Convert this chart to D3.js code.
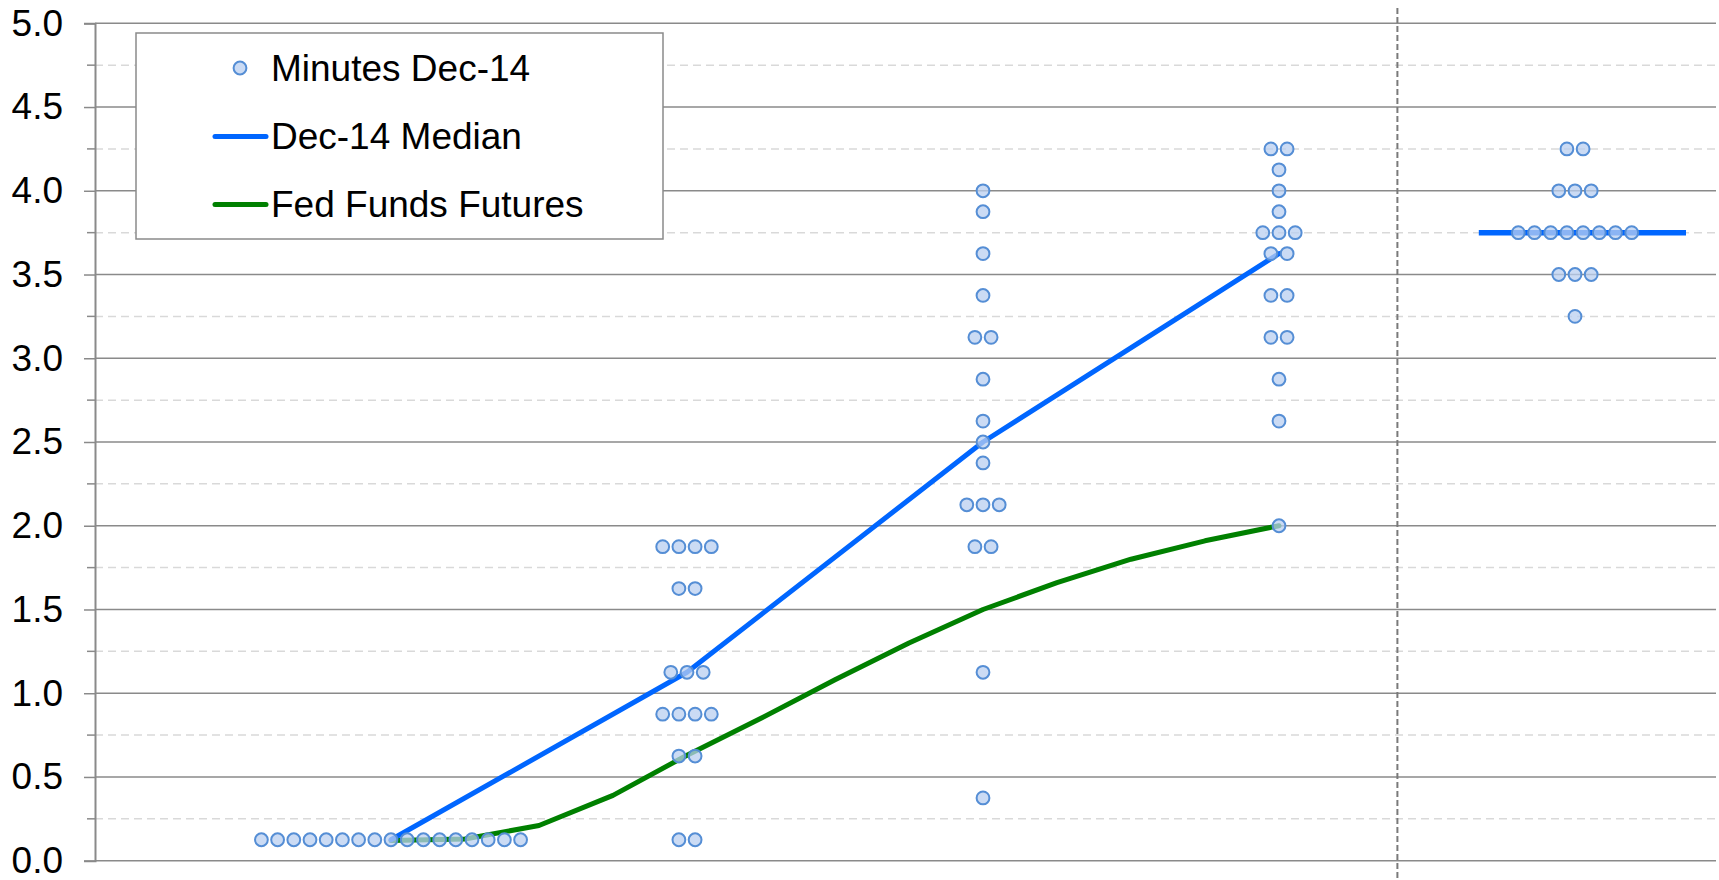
<!DOCTYPE html>
<html>
<head>
<meta charset="utf-8">
<script src="https://d3js.org/d3.v7.min.js"></script>
<style>
    body { margin: 0; background: #fff; }
    svg { display: block; font-family: Arial, "Liberation Sans", sans-serif; }
</style>
</head>
<body>
<svg id="chart" width="1719" height="880"></svg>
<script>
// Columns on the x axis: 2014, 2015, 2016, 2017, longer run
var columns = [1, 2, 3, 4, 5];

// FOMC dots per column as [rate, number of participants]
var dots2014 = [[0.125, 17]];
var dots2015 = [[1.875, 4], [1.625, 2], [1.125, 3], [0.875, 4], [0.625, 2], [0.125, 2]];
var dots2016 = [[4.0, 1], [3.875, 1], [3.625, 1], [3.375, 1], [3.125, 2], [2.875, 1], [2.625, 1],
                [2.5, 1], [2.375, 1], [2.125, 3], [1.875, 2], [1.125, 1], [0.375, 1]];
var dots2017 = [[4.25, 2], [4.125, 1], [4.0, 1], [3.875, 1], [3.75, 3], [3.625, 2], [3.375, 2],
                [3.125, 2], [2.875, 1], [2.625, 1], [2.0, 1]];
var dotsLongRun = [[4.25, 2], [4.0, 3], [3.75, 8], [3.5, 3], [3.25, 1]];
var dotColumns = [dots2014, dots2015, dots2016, dots2017, dotsLongRun];

// Dec-14 median path
var medianX = [1, 2, 3, 4];
var medianValues = [0.125, 1.125, 2.5, 3.625];

// Longer run median (short flat segment)
var longRunMedian = 3.75;
var longRunSpan = [4.675, 5.375];

// Fed funds futures, quarterly
var futuresX = [1, 1.25, 1.5, 1.75, 2, 2.25, 2.5, 2.75, 3, 3.25, 3.5, 3.75, 4];
var futuresValues = [0.12, 0.13, 0.21, 0.39, 0.63, 0.85, 1.08, 1.30, 1.50, 1.66, 1.80, 1.91, 2.00];

// separator between 2017 and longer run
var separatorX = 4.4;

var majorTicks = [0, 0.5, 1, 1.5, 2, 2.5, 3, 3.5, 4, 4.5, 5];
var minorTicks = [0.25, 0.75, 1.25, 1.75, 2.25, 2.75, 3.25, 3.75, 4.25, 4.75];

var legendLabels = ["Minutes Dec-14", "Dec-14 Median", "Fed Funds Futures"];

var blue = "#0066ff";
var green = "#008000";
var dotFill = "#b9cff0";
var dotStroke = "#558ed5";

var svg = d3.select("#chart");

var x = d3.scaleLinear().domain([0, 5]).range([95, 1575]);
var y = d3.scaleLinear().domain([0, 5]).range([860.7, 23.3]);
var plotRight = 1716;

// gridlines
svg.append("g").selectAll("line")
    .data(minorTicks)
    .join("line")
    .attr("x1", x(0)).attr("x2", plotRight)
    .attr("y1", d => y(d)).attr("y2", d => y(d))
    .attr("stroke", "#d9d9d9")
    .attr("stroke-width", 1.5)
    .attr("stroke-dasharray", "8,5");

svg.append("g").selectAll("line")
    .data(majorTicks)
    .join("line")
    .attr("x1", x(0)).attr("x2", plotRight)
    .attr("y1", d => y(d)).attr("y2", d => y(d))
    .attr("stroke", "#8a8a8a")
    .attr("stroke-width", 1.5);

// vertical separator
svg.append("line")
    .attr("x1", x(separatorX)).attr("x2", x(separatorX))
    .attr("y1", 8).attr("y2", 880)
    .attr("stroke", "#7a7a7a")
    .attr("stroke-width", 2)
    .attr("stroke-dasharray", "6,3");

// y axis
var yAxis = d3.axisLeft(y)
    .tickValues(majorTicks)
    .tickFormat(d3.format(".1f"))
    .tickSize(11)
    .tickPadding(21);

var axisG = svg.append("g")
    .attr("transform", "translate(" + x(0) + ",0)")
    .call(yAxis);
axisG.select(".domain").attr("stroke", "#8a8a8a").attr("stroke-width", 2);
axisG.selectAll(".tick line").attr("stroke", "#8a8a8a").attr("stroke-width", 1.5);
axisG.selectAll(".tick text")
    .attr("font-size", 37)
    .attr("font-family", "Arial, 'Liberation Sans', sans-serif")
    .attr("fill", "#000");

svg.append("g").selectAll("line")
    .data(minorTicks)
    .join("line")
    .attr("x1", x(0) - 8).attr("x2", x(0))
    .attr("y1", d => y(d)).attr("y2", d => y(d))
    .attr("stroke", "#8a8a8a")
    .attr("stroke-width", 1.5);

// lines
var line = d3.line().x(d => x(d[0])).y(d => y(d[1]));

svg.append("path")
    .datum(d3.zip(futuresX, futuresValues))
    .attr("d", line)
    .attr("fill", "none")
    .attr("stroke", green)
    .attr("stroke-width", 5)
    .attr("stroke-linejoin", "round")
    .attr("stroke-linecap", "round");

svg.append("path")
    .datum(d3.zip(medianX, medianValues))
    .attr("d", line)
    .attr("fill", "none")
    .attr("stroke", blue)
    .attr("stroke-width", 5)
    .attr("stroke-linejoin", "round")
    .attr("stroke-linecap", "round");

svg.append("line")
    .attr("x1", x(longRunSpan[0])).attr("x2", x(longRunSpan[1]))
    .attr("y1", y(longRunMedian)).attr("y2", y(longRunMedian))
    .attr("stroke", blue)
    .attr("stroke-width", 5.5);

// dots: each rate row is centred on its column
var dotSpacing = 16.2;
var dotData = [];
dotColumns.forEach(function (rows, c) {
    rows.forEach(function (row) {
        var n = row[1];
        for (var i = 0; i < n; i++) {
            dotData.push({ col: columns[c], rate: row[0], offset: (i - (n - 1) / 2) * dotSpacing });
        }
    });
});

svg.append("g").selectAll("circle")
    .data(dotData)
    .join("circle")
    .attr("cx", d => x(d.col) + d.offset)
    .attr("cy", d => y(d.rate))
    .attr("r", 6.4)
    .attr("fill", dotFill)
    .attr("fill-opacity", 0.75)
    .attr("stroke", dotStroke)
    .attr("stroke-width", 2);

// legend
var legend = svg.append("g");
legend.append("rect")
    .attr("x", 136).attr("y", 33)
    .attr("width", 527).attr("height", 206)
    .attr("fill", "#fff")
    .attr("stroke", "#8a8a8a")
    .attr("stroke-width", 1.5);

var rowY = [68, 136.5, 204.5];

legend.append("circle")
    .attr("cx", 240).attr("cy", rowY[0])
    .attr("r", 6.4)
    .attr("fill", dotFill)
    .attr("fill-opacity", 0.75)
    .attr("stroke", dotStroke)
    .attr("stroke-width", 2);

[blue, green].forEach(function (col, i) {
    legend.append("line")
        .attr("x1", 215).attr("x2", 266)
        .attr("y1", rowY[i + 1]).attr("y2", rowY[i + 1])
        .attr("stroke", col)
        .attr("stroke-width", 5)
        .attr("stroke-linecap", "round");
});

legend.selectAll("text")
    .data(legendLabels)
    .join("text")
    .attr("x", 271)
    .attr("y", (d, i) => rowY[i])
    .attr("dy", "0.35em")
    .attr("font-size", 37)
    .attr("fill", "#000")
    .text(d => d);
</script>
</body>
</html>
